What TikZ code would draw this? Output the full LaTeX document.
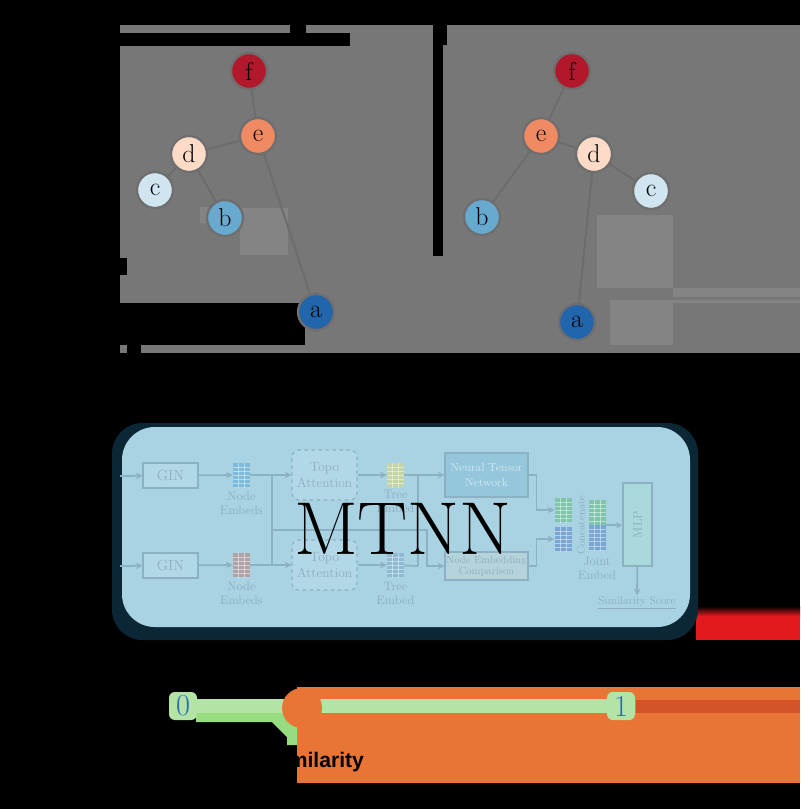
\documentclass[tikz,border=0pt]{standalone}
\usepackage{fontspec}
\newfontfamily\slidefont{Liberation Sans}
\usetikzlibrary{calc}
\definecolor{panelgray}{HTML}{777777}
\definecolor{panellight}{HTML}{848484}
\definecolor{halo}{HTML}{6E6E6E}
\definecolor{edgegray}{HTML}{6C6C6C}
\definecolor{nf}{HTML}{B2182B}
\definecolor{ne}{HTML}{EF8A62}
\definecolor{nd}{HTML}{FDDBC7}
\definecolor{nc}{HTML}{D1E5F0}
\definecolor{nb}{HTML}{67A9CF}
\definecolor{na}{HTML}{2166AC}
\definecolor{navy}{HTML}{0B2634}
\definecolor{skyfill}{HTML}{A9D2E3}
\definecolor{pipeline}{HTML}{8CB1C3}
\definecolor{pipetext}{HTML}{8DAFC0}
\definecolor{ginfill}{HTML}{B2D7E6}
\definecolor{ntnfill}{HTML}{94C6DC}
\definecolor{necfill}{HTML}{B5D3DA}
\definecolor{mlpfill}{HTML}{A9D9DA}
\definecolor{gblue}{HTML}{7DBBD8}
\definecolor{gbrown}{HTML}{AFA3A6}
\definecolor{gyellow}{HTML}{C3D5A4}
\definecolor{gsteel}{HTML}{8DB9D1}
\definecolor{gteal}{HTML}{7FC5AB}
\definecolor{gcobalt}{HTML}{7AA7D2}
\definecolor{sliderorange}{HTML}{E87436}
\definecolor{sliderred}{HTML}{D4532A}
\definecolor{bargreen}{HTML}{B4E4A5}
\definecolor{pointgreen}{HTML}{97DC80}
\definecolor{digitblue}{HTML}{2D6DB2}
\definecolor{alarmred}{HTML}{E3191F}
\begin{document}
\begin{tikzpicture}[x=0.03cm,y=-0.03cm,>=stealth,
    tnode/.style={circle,fill=#1,minimum size=1.08cm,inner sep=0pt,draw=halo,line width=2pt,
      font=\fontsize{22}{26}\selectfont},
    tedge/.style={draw=edgegray,line width=1.6pt},
    pbox/.style={draw=pipeline,fill=#1,line width=1pt,text=pipetext,align=center,inner sep=1pt},
    topo/.style={pbox=ginfill,dashed,rounded corners=6pt,minimum width=1.95cm,minimum height=1.5cm,
      font=\fontsize{11.5}{13.5}\selectfont},
    pipe/.style={draw=pipeline,line width=1.5pt},
    lbl/.style={text=pipetext,align=center,font=\fontsize{10.5}{12}\selectfont,inner sep=1pt},
    embed/.style={fill=#1,minimum width=0.51cm,minimum height=0.72cm,inner sep=0pt,
      path picture={
        \foreach \k in {1,...,5}
          \draw[white,opacity=0.45,line width=0.4pt]
            ($(path picture bounding box.north west)!\k/6!(path picture bounding box.south west)$) -- ++(30,0);
        \foreach \k in {1,2}
          \draw[white,opacity=0.45,line width=0.4pt]
            ($(path picture bounding box.north west)!\k/3!(path picture bounding box.north east)$) -- ++(0,30);
      }},
    digit/.style={fill=bargreen,rounded corners=5pt,text=digitblue,minimum size=0.84cm,inner sep=0pt,
      font=\fontsize{26}{28}\selectfont}]
  % background and tree panels
  \fill[black] (0,0) rectangle (800,809);
  \fill[panelgray] (120,25) rectangle (800,353);
  \fill[black] (120,33) rectangle (350,46);
  \fill[black] (290,25) rectangle (306,46);
  \fill[black] (433,25) rectangle (443,256);
  \fill[black] (443,25) rectangle (447,45);
  \fill[black] (120,258) rectangle (127,275);
  \fill[black] (120,303) rectangle (305,345);
  \fill[black] (127,345) rectangle (141,353);
  \fill[panellight] (240,208) rectangle (288,255);
  \fill[panellight] (597,215) rectangle (673,288);
  \fill[panellight] (610,300) rectangle (673,345);
  \fill[panellight] (673,288) rectangle (800,297);
  \fill[panellight] (673,300) rectangle (800,303);
  \fill[panellight] (200,207) -- (222,207) -- (222,216) -- (212,223) -- (200,223) -- cycle;

  % left tree
  \node[tnode=nf] (lf) at (249,71) {f};
  \node[tnode=ne] (le) at (258,136) {e};
  \node[tnode=nd] (ld) at (189,154) {d};
  \node[tnode=nc] (lc) at (155,190) {c};
  \node[tnode=nb] (lb) at (225,218) {b};
  \node[tnode=na] (la) at (316,312) {a};
  \draw[tedge] (lf) -- (le);
  \draw[tedge] (le) -- (ld);
  \draw[tedge] (le) -- (la);
  \draw[tedge] (ld) -- (lc);
  \draw[tedge] (ld) -- (lb);

  % right tree
  \node[tnode=nf] (rf) at (572,71) {f};
  \node[tnode=ne] (re) at (541,136) {e};
  \node[tnode=nd] (rd) at (594,154) {d};
  \node[tnode=nc] (rc) at (651,191) {c};
  \node[tnode=nb] (rb) at (482,217) {b};
  \node[tnode=na] (ra) at (577,322) {a};
  \draw[tedge] (rf) -- (re);
  \draw[tedge] (re) -- (rb);
  \draw[tedge] (re) -- (rd);
  \draw[tedge] (rd) -- (rc);
  \draw[tedge] (rd) -- (ra);

  % model box
  \fill[alarmred] (696,612) rectangle (800,640);
  \shade[top color=black,bottom color=alarmred] (696,606) rectangle (800,616);
  \fill[navy,rounded corners=26pt] (112,423) rectangle (698,640);
  \fill[skyfill,rounded corners=28pt] (122,427) rectangle (690,627);

  \coordinate (inA) at (120,476);
  \coordinate (inB) at (120,566);
  \node[pbox=ginfill,minimum width=1.65cm,minimum height=0.75cm,font=\fontsize{12.5}{13}\selectfont] (ginA) at (170.5,475.5) {GIN};
  \node[pbox=ginfill,minimum width=1.65cm,minimum height=0.75cm,font=\fontsize{12.5}{13}\selectfont] (ginB) at (170.5,565.5) {GIN};
  \node[embed=gblue,label={[lbl,label distance=3pt]below:{Node\\Embeds}}] (embA) at (241.5,475) {};
  \node[embed=gbrown,label={[lbl,label distance=3pt]below:{Node\\Embeds}}] (embB) at (241.5,565) {};
  \node[topo] (topoA) at (324.5,475) {Topo\\Attention};
  \node[topo] (topoB) at (324.5,565) {Topo\\Attention};
  \node[embed=gyellow,label={[lbl,label distance=1pt]below:{Tree\\Embed}}] (treeA) at (395.5,475) {};
  \node[embed=gsteel,label={[lbl,label distance=3pt]below:{Tree\\Embed}}] (treeB) at (395.5,565) {};
  \node[pbox=ntnfill,text=ginfill!60!white,minimum width=2.49cm,minimum height=1.32cm,font=\fontsize{10}{12}\selectfont] (ntn) at (486.5,475) {Neural Tensor\\Network};
  \node[pbox=necfill,minimum width=2.49cm,minimum height=0.84cm,font=\fontsize{8.8}{9.5}\selectfont] (nec) at (486.5,566) {Node Embedding\\Comparison};
  \node[embed=gteal] (catA) at (563,510) {};
  \node[embed=gcobalt] (catB) at (563,539) {};
  \node[lbl,rotate=90,font=\fontsize{9}{9}\selectfont] (cat) at (581,525) {Concatenate};
  \node[embed=gteal,minimum height=0.75cm] (jointA) at (597,512.5) {};
  \node[embed=gcobalt,minimum height=0.75cm,label={[lbl,label distance=5pt]below:{Joint\\Embed}}] (jointB) at (597,537.5) {};
  \node[pbox=mlpfill,minimum width=0.87cm,minimum height=2.49cm] (mlp) at (637.5,524.5) {};
  \node[lbl,rotate=90] at (mlp) {MLP};
  \node[lbl,font=\fontsize{9.5}{10}\selectfont] (score) at (637,603) {\underline{Similarity Score}};

  \coordinate (jA) at (272,476);
  \coordinate (jB) at (272,566);
  \coordinate (jM) at (272,530);
  \coordinate (kM) at (427,530);
  \coordinate (tA) at (418,476);
  \coordinate (tB) at (418,566);
  \draw[pipe,->] (inA) -- (ginA);
  \draw[pipe,->] (inB) -- (ginB);
  \draw[pipe,->] (ginA) -- (embA);
  \draw[pipe,->] (ginB) -- (embB);
  \draw[pipe,->] (embA) -- (topoA);
  \draw[pipe,->] (embB) -- (topoB);
  \draw[pipe] (jA) -- (jB);
  \draw[pipe,->] (jM) -- (kM) |- (nec);
  \draw[pipe,->] (topoA) -- (treeA);
  \draw[pipe,->] (topoB) -- (treeB);
  \draw[pipe,->] (treeA) -- (ntn);
  \draw[pipe] (tA) -- (tB);
  \draw[pipe] (treeB) -- (tB);
  \draw[pipe,->] (ntn.east) -- ++(8,0) |- (catA);
  \draw[pipe,->] (nec.east) -- ++(8,0) |- (catB);
  \draw[pipe,->] (jointA.south east) -- (mlp.west |- jointA.south east);
  \draw[pipe,->] (mlp) -- (score);

  \node[font=\fontsize{64}{70}\selectfont] (mtnn) at (403,529) {MTNN};

  % similarity slider
  \fill[sliderorange] (297,687) rectangle (800,783);
  \fill[sliderred] (636,700) rectangle (800,713);
  \fill[pointgreen] (196,713) -- (297,713) -- (297,745) -- (287,745) -- (287,737) -- (272,722) -- (196,722) -- cycle;
  \node[digit] (zero) at (183,706) {0};
  \node[digit] (one) at (621,706) {1};
  \draw[bargreen,line width=0.42cm] (zero) -- (one);
  \node[circle,fill=sliderorange,minimum size=1.2cm,inner sep=0pt] (knob) at (302,708) {};
  \node[anchor=base east,font=\slidefont\bfseries\fontsize{18}{20}\selectfont] (simlabel) at (368,767) {Similarity};
\end{tikzpicture}
\end{document}
